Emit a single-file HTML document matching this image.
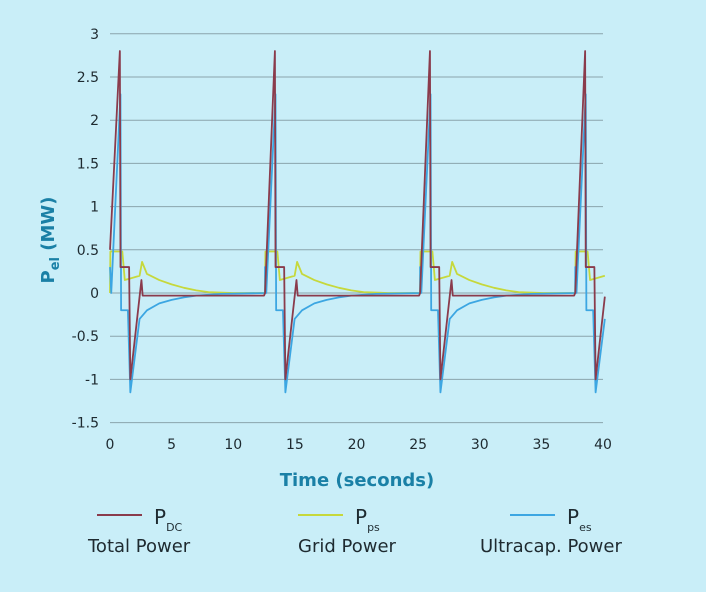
<!DOCTYPE html>
<html><head><meta charset="utf-8">
<style>
body{margin:0;background:#c9eef8;font-family:"DejaVu Sans","Liberation Sans",sans-serif;}
#wrap{position:relative;width:706px;height:592px;overflow:hidden;background:#c9eef8;}
svg text{font-family:"DejaVu Sans","Liberation Sans",sans-serif;}
</style></head>
<body>
<div id="wrap">
<svg id="chart" width="706" height="592"></svg>
</div>
<script>
const xTicks=[0,5,10,15,20,25,30,35,40];
const yTicks=[3,2.5,2,1.5,1,0.5,0,-0.5,-1,-1.5];
const cycleStarts=[0,12.58,25.16,37.75];
const pdcT=[0,0.8,0.85,1.55,1.65,2.55,2.65,12.5,12.58];
const pdcV=[0.5,2.8,0.3,0.3,-1.0,0.15,-0.03,-0.03,0];
const ppsT=[0,0.03,1.0,1.2,2.4,2.6,3,4,5,6,7,8,10,12.58];
const ppsV=[0,0.48,0.48,0.15,0.2,0.36,0.22,0.15,0.1,0.06,0.03,0.01,0,0];
const pesT=[0,0.1,0.85,0.9,1.45,1.65,2.4,3,4,5,6,7,9,12.58];
const pesV=[0.3,0,2.3,-0.2,-0.2,-1.15,-0.3,-0.2,-0.12,-0.08,-0.05,-0.03,-0.01,0];
const NS='http://www.w3.org/2000/svg';
const svg=document.getElementById('chart');
const X0=110,X1=603,Y0=293,YU=86.4,TMAX=40.15;
function sx(t){return X0+t*(X1-X0)/40;}
function sy(v){return Y0-v*YU;}
function mk(tag,attrs){const e=document.createElementNS(NS,tag);for(const k in attrs)e.setAttribute(k,attrs[k]);svg.appendChild(e);return e;}
yTicks.forEach(v=>{
 const l=mk('line',{x1:X0,x2:X1,y1:sy(v),y2:sy(v),stroke:'#8aa4ac','stroke-width':1});
 
 
 const t=mk('text',{x:99,y:sy(v)+5,'text-anchor':'end','font-size':14,fill:'#1e2a30'});
 t.textContent=String(v);
 
 
});
xTicks.forEach(v=>{
 const t=mk('text',{x:sx(v),y:449,'text-anchor':'middle','font-size':14,fill:'#1e2a30'});
 t.textContent=String(v);
 
 
});
function series(T,V,color,name){
 let pts=[];
 let prev=null;
 outer:
 for(let i=0;i<cycleStarts.length;i++){
  const c=cycleStarts[i];
  for(let j=0;j<T.length;j++){
   const t=c+T[j];
   let v=V[j];
   if(i>0&&j===0&&name==='pdc')v=0;
   if(t>TMAX){
    if(prev){const f=(TMAX-prev[0])/(t-prev[0]);pts.push([sx(TMAX),sy(prev[1]+f*(v-prev[1]))]);}
    break outer;
   }
   pts.push([sx(t),sy(v)]);
   prev=[t,v];
  }
 }
 const p=mk('polyline',{points:pts.map(p=>p.join(',')).join(' '),fill:'none',stroke:color,'stroke-width':1.8,'stroke-linejoin':'round'});
 
 
}
series(ppsT,ppsV,'#c6d83c','pps');
series(pesT,pesV,'#3ca6e2','pes');
series(pdcT,pdcV,'#8a3b4c','pdc');
const xt=mk('text',{x:357,y:486,'text-anchor':'middle','font-size':18,'font-weight':'bold',fill:'#1a80a6'});
xt.textContent='Time (seconds)';


const yt=mk('text',{transform:'translate(54,240) rotate(-90)','text-anchor':'middle','font-size':18,'font-weight':'bold',fill:'#1a80a6'});
yt.innerHTML='P<tspan font-size="13" dy="5">el</tspan><tspan dy="-5"> (MW)</tspan>';


const leg=[[97,'#8a3b4c','DC','Total Power',88],[298,'#c6d83c','ps','Grid Power',298],[510,'#3ca6e2','es','Ultracap. Power',480]];
leg.forEach(l=>{
 const ln=mk('line',{x1:l[0],x2:l[0]+45,y1:515,y2:515,stroke:l[1],'stroke-width':2});
 
 
 const s=mk('text',{x:l[0]+57,y:524,'font-size':20,fill:'#1e2a30'});
 s.innerHTML='P<tspan font-size="11" dy="7">'+l[2]+'</tspan>';
 
 
 const d=mk('text',{x:l[4],y:552,'font-size':18,fill:'#1e2a30'});
 d.textContent=l[3];
 
 
});
</script>
</body></html>
